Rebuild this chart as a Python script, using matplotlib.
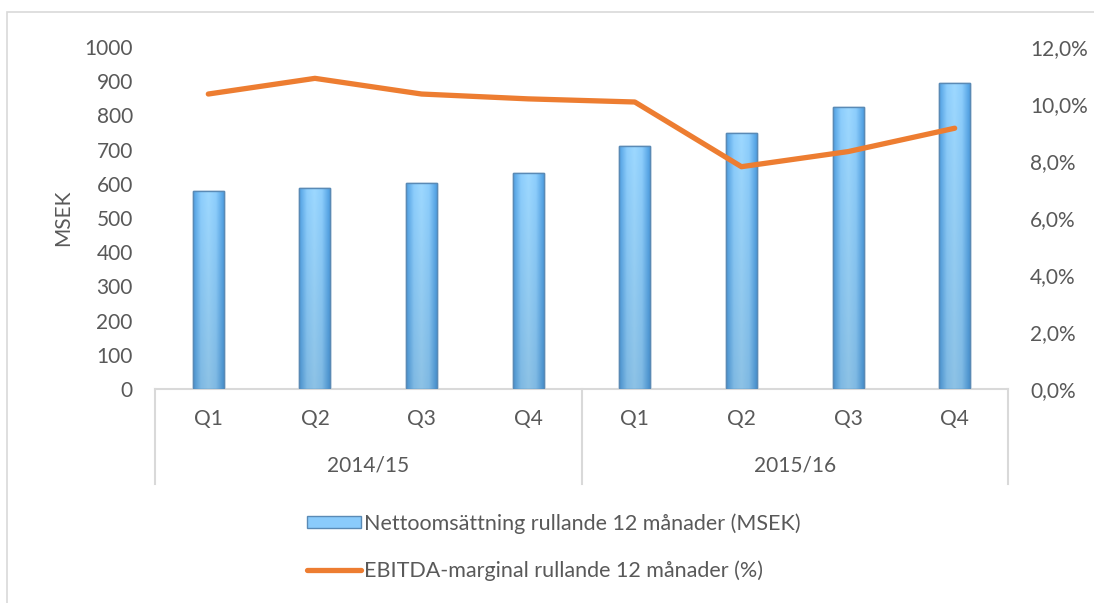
import matplotlib
matplotlib.use("Agg")
import matplotlib.pyplot as plt
import numpy as np
from matplotlib.patches import Rectangle
from matplotlib.lines import Line2D
from matplotlib.colors import LinearSegmentedColormap

quarters = ["Q1", "Q2", "Q3", "Q4", "Q1", "Q2", "Q3", "Q4"]
years = ["2014/15", "2015/16"]
sales = [579, 589, 601, 632, 711, 750, 825, 894]
ebitda = [10.35, 10.9, 10.35, 10.18, 10.07, 7.8, 8.33, 9.15]
bar_label = "Nettoomsättning rullande 12 månader (MSEK)"
line_label = "EBITDA-marginal rullande 12 månader (%)"

plt.rcParams['font.family'] = ['Lato', 'DejaVu Sans']
TXT = '#595959'
GRID = '#D9D9D9'
W, H = 1094, 603
fig = plt.figure(figsize=(W / 100, H / 100), dpi=100)

def fx(px): return px / W
def fy(py): return 1 - py / H

# outer chart border (top & left visible)
fig.add_artist(Rectangle((fx(7), fy(700)), fx(1200), fy(12) - fy(700),
                         transform=fig.transFigure, fill=False, edgecolor=GRID, lw=1.2))

L, R, T, B = 155, 1008, 47, 389
ax = fig.add_axes([fx(L), fy(B), fx(R - L), fy(T) - fy(B)])
x = np.arange(len(sales))
ax.set_xlim(-0.5, len(sales) - 0.5)
ax.set_ylim(0, 1000)
ax.set_yticks(np.arange(0, 1001, 100))
ax.set_xticks([])
for s in ax.spines.values():
    s.set_visible(False)
ax.tick_params(axis='y', length=0, pad=16, labelsize=15, labelcolor=TXT)
ax.set_ylabel("MSEK", fontsize=15, color=TXT, labelpad=8)

bw = 0.29
cmap = LinearSegmentedColormap.from_list('b', ['#4F9FE2', '#8CCDFC', '#9DD8FF', '#8CCDFC', '#4F9FE2'])
grad = np.linspace(0, 1, 64)[None, :].repeat(32, axis=0)
vshade = np.linspace(0.9, 1.0, 32)[:, None]
rgb = cmap(grad)[..., :3] * vshade[..., None]
bars = ax.bar(x, sales, width=bw, color='#7CC2F8', edgecolor='#5A8AB5', linewidth=1.0, zorder=2)
for b in bars:
    im = ax.imshow(rgb, extent=[b.get_x(), b.get_x() + b.get_width(), 0, b.get_height()],
                   aspect='auto', origin='lower', zorder=2.5, interpolation='bilinear')
    im.set_clip_path(b)
    ax.add_patch(Rectangle((b.get_x(), 0), b.get_width(), b.get_height(), fill=False,
                           edgecolor='#5A8AB5', lw=1.0, zorder=3))
ax.set_xlim(-0.5, len(sales) - 0.5)
ax.set_ylim(0, 1000)

ax2 = ax.twinx()
ax2.set_ylim(0, 12)
ax2.set_yticks(np.arange(0, 12.1, 2))
ax2.set_yticklabels([f"{v:.1f}%".replace('.', ',') for v in np.arange(0, 12.1, 2)])
for s in ax2.spines.values():
    s.set_visible(False)
ax2.tick_params(axis='y', length=0, pad=16, labelsize=15, labelcolor=TXT)
ax2.plot(x, ebitda, color='#ED7D31', lw=3.8, solid_capstyle='round', solid_joinstyle='round', zorder=5)

# category axis table
tr = ax.get_xaxis_transform()
ax.add_line(Line2D([-0.5, len(sales) - 0.5], [0, 0], transform=tr, color=GRID, lw=1.5, clip_on=False))
ybot = (B - 484) / (B - T)
for xv in [-0.5, 3.5, 7.5]:
    ax.add_line(Line2D([xv, xv], [0, ybot], transform=tr, color=GRID, lw=1.5, clip_on=False))
yq = (B - 419) / (B - T)
yy = (B - 466) / (B - T)
for i, q in enumerate(quarters):
    ax.text(i, yq, q, transform=tr, ha='center', va='center', fontsize=15, color=TXT)
for j, yr in enumerate(years):
    ax.text(1.5 + 4 * j, yy, yr, transform=tr, ha='center', va='center', fontsize=15, color=TXT)

handles = [Rectangle((0, 0), 1, 1, facecolor='#8ACBFB', edgecolor='#5A8AB5', lw=1.0),
           Line2D([], [], color='#ED7D31', lw=3.8, solid_capstyle='round')]
leg = fig.legend(handles, [bar_label, line_label], loc='center left',
                 bbox_to_anchor=(fx(288), fy(547)), frameon=False, fontsize=15.5,
                 labelcolor=TXT, handlelength=2.5, handletextpad=0.15, labelspacing=1.25,
                 handleheight=0.5)

fig.savefig("out.png", dpi=100, facecolor='white')
